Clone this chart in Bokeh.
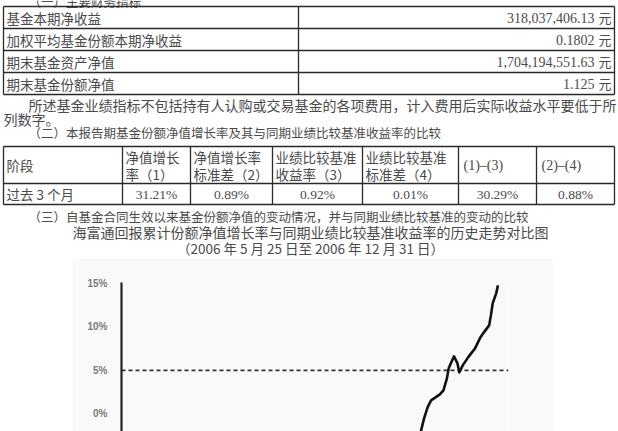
import pandas as pd
from bokeh.plotting import figure
from bokeh.models import Range1d, FixedTicker, PrintfTickFormatter, Spacer
from bokeh.layouts import column, row
from bokeh.core.properties import value
from bokeh.embed import file_html
from bokeh.resources import INLINE

# ---------------- data ----------------
heading1 = "（一）主要财务指标"
table1_labels = ["基金本期净收益", "加权平均基金份额本期净收益", "期末基金资产净值", "期末基金份额净值"]
table1_values = ["318,037,406.13", "0.1802", "1,704,194,551.63", "1.125"]
table1_unit = "元"
note_line1 = "所述基金业绩指标不包括持有人认购或交易基金的各项费用，计入费用后实际收益水平要低于所"
note_line2 = "列数字。"
heading2 = "（二）本报告期基金份额净值增长率及其与同期业绩比较基准收益率的比较"
table2_first_header = "阶段"
table2_header_top = ["净值增长", "净值增长率", "业绩比较基准", "业绩比较基准"]
table2_header_bottom = ["率（1）", "标准差（2）", "收益率（3）", "标准差（4）"]
table2_header_single = ["(1)–(3)", "(2)–(4)"]
table2_row_label = "过去 3 个月"
table2_values = ["31.21%", "0.89%", "0.92%", "0.01%", "30.29%", "0.88%"]
heading3 = "（三）自基金合同生效以来基金份额净值的变动情况，并与同期业绩比较基准的变动的比较"
chart_title = "海富通回报累计份额净值增长率与同期业绩比较基准收益率的历史走势对比图"
chart_subtitle = "（2006 年 5 月 25 日至 2006 年 12 月 31 日）"

fund_dates = ["2006-11-10", "2006-11-13", "2006-11-15", "2006-11-17", "2006-11-22",
              "2006-11-24", "2006-11-26", "2006-11-27", "2006-11-30", "2006-12-02",
              "2006-12-03", "2006-12-05", "2006-12-08", "2006-12-12", "2006-12-15",
              "2006-12-17", "2006-12-20", "2006-12-21", "2006-12-22", "2006-12-24",
              "2006-12-25"]
fund_values = [-3.0, -0.52, 0.75, 1.55, 2.24,
               2.70, 4.08, 5.23, 6.61, 5.80,
               4.77, 5.57, 6.49, 7.53, 8.79,
               9.37, 10.17, 11.32, 12.70, 13.85,
               14.77]
bench_dates = ["2006-05-25", "2006-12-31"]
bench_values = [5.0, 5.0]
y_ticks = [0, 5, 10, 15]

# ---------------- styles ----------------
CJK = value("Noto Sans CJK SC")
NUM = value("Liberation Serif")
TXT = "#4a4a4a"
LINE = "#2a2a2a"

DOC_W, DOC_H = 618, 258

doc = figure(width=DOC_W, height=DOC_H, x_range=Range1d(0, DOC_W), y_range=Range1d(DOC_H, 0),
             output_backend="svg", toolbar_location=None, x_axis_location=None,
             y_axis_location=None, min_border=0, min_border_left=0, min_border_right=0,
             min_border_top=0, min_border_bottom=0, outline_line_color=None,
             background_fill_color="white", border_fill_color="white")
doc.grid.visible = False


def put(xs, ys, texts, font, size, align="left", color=TXT):
    doc.text(x=xs, y=ys, text=texts, text_font=font, text_font_size=size,
             text_align=align, text_baseline="middle", text_color=color)


# heading 1 (cut by the top edge, as in the reference)
put([28], [1], [heading1], CJK, "12.5px")

# table 1
T1_L, T1_R, T1_DIV, T1_TOP, T1_ROW = 3, 614, 298, 6, 22
t1_edges = [T1_TOP + T1_ROW * i for i in range(len(table1_labels) + 1)]
t1_mid = [T1_TOP + T1_ROW * (i + 0.5) for i in range(len(table1_labels))]
doc.segment(x0=[T1_L] * len(t1_edges), y0=t1_edges, x1=[T1_R] * len(t1_edges), y1=t1_edges,
            line_color=LINE, line_width=1.3)
doc.segment(x0=[T1_L, T1_DIV, T1_R], y0=[t1_edges[0]] * 3, x1=[T1_L, T1_DIV, T1_R],
            y1=[t1_edges[-1]] * 3, line_color=LINE, line_width=1.3)
put([6] * len(table1_labels), t1_mid, table1_labels, CJK, "13.5px")
put([594] * len(table1_values), t1_mid, table1_values, NUM, "14px", align="right")
put([611] * len(table1_values), t1_mid, [table1_unit] * len(table1_values), CJK, "13px", align="right")

# note paragraph
put([28], [104], [note_line1], CJK, "14px")
put([3], [118], [note_line2], CJK, "14px")

# heading 2
put([28], [132], [heading2], CJK, "12.5px")

# table 2
T2_COLS = [3, 122, 190, 272, 362, 458, 536, 614]
T2_Y = [146, 183, 204]
doc.segment(x0=[T2_COLS[0]] * 3, y0=T2_Y, x1=[T2_COLS[-1]] * 3, y1=T2_Y,
            line_color=LINE, line_width=1.3)
doc.segment(x0=T2_COLS, y0=[T2_Y[0]] * len(T2_COLS), x1=T2_COLS, y1=[T2_Y[-1]] * len(T2_COLS),
            line_color=LINE, line_width=1.3)
hdr_mid = (T2_Y[0] + T2_Y[1]) / 2
row_mid = (T2_Y[1] + T2_Y[2]) / 2
put([6], [hdr_mid], [table2_first_header], CJK, "13.5px")
put([c + 3 for c in T2_COLS[1:5]], [hdr_mid - 8.5] * 4, table2_header_top, CJK, "13.5px")
put([c + 3 for c in T2_COLS[1:5]], [hdr_mid + 8.5] * 4, table2_header_bottom, CJK, "13.5px")
put([c + 5 for c in T2_COLS[5:7]], [hdr_mid] * 2, table2_header_single, NUM, "14px")
put([6], [row_mid], [table2_row_label], CJK, "13.5px")
centers = [(T2_COLS[i] + T2_COLS[i + 1]) / 2 for i in range(1, 7)]
put(centers, [row_mid] * 6, table2_values, NUM, "13.5px", align="center")

# heading 3 and chart titles
put([28], [216], [heading3], CJK, "12.5px")
put([310], [231], [chart_title], CJK, "14px", align="center")
put([310], [247], [chart_subtitle], CJK, "13.5px", align="center")

# ---------------- chart ----------------
BOX = "#f9f9f9"
chart = figure(width=481, height=173, x_axis_type="datetime", x_axis_location=None,
               x_range=Range1d(pd.Timestamp(bench_dates[0]), pd.Timestamp(bench_dates[-1])),
               y_range=Range1d(-2.03, 15.1), output_backend="svg", toolbar_location=None,
               min_border_left=49, min_border_right=45, min_border_top=24, min_border_bottom=0,
               background_fill_color=BOX, border_fill_color=BOX, outline_line_color=None)
chart.grid.grid_line_color = None

chart.line(x=pd.to_datetime(bench_dates), y=bench_values, line_color="#333333",
           line_width=1.6, line_dash="4 3")
chart.line(x=pd.to_datetime(fund_dates), y=fund_values, line_color="#111111",
           line_width=2.6, line_join="round")

ax = chart.yaxis[0]
ax.ticker = FixedTicker(ticks=y_ticks)
ax.formatter = PrintfTickFormatter(format="%d%%")
ax.axis_line_color = "#222222"
ax.axis_line_width = 2.2
ax.major_tick_line_color = None
ax.minor_tick_line_color = None
ax.major_label_standoff = 8
ax.major_label_text_font = "Liberation Sans"
ax.major_label_text_font_size = "10px"
ax.major_label_text_font_style = "bold"
ax.major_label_text_color = "#7a7a7a"

layout = column(doc,
                row(Spacer(width=72, height=173), chart, Spacer(width=65, height=173)),
                styles={"position": "absolute", "left": "0px", "top": "0px"})

open("out.html", "w").write(file_html(layout, INLINE))
